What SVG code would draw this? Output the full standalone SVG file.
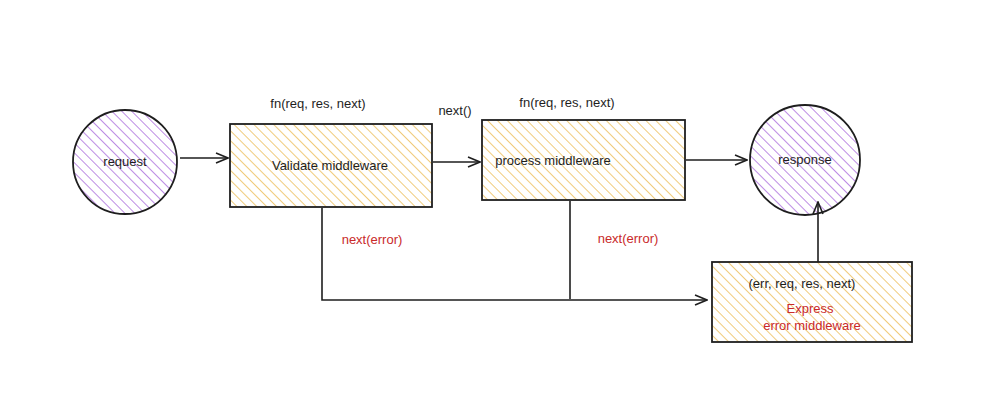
<svg xmlns="http://www.w3.org/2000/svg" width="1000" height="420" viewBox="0 0 1000 420">
<defs>
<pattern id="hy" width="7" height="7" patternUnits="userSpaceOnUse" patternTransform="rotate(-45)"><line x1="0" y1="0" x2="0" y2="7" stroke="#e9b441" stroke-width="1.4"/></pattern>
<pattern id="hp" width="7" height="7" patternUnits="userSpaceOnUse" patternTransform="rotate(-45)"><line x1="0" y1="0" x2="0" y2="7" stroke="#a15ad8" stroke-width="1.4"/></pattern>
<marker id="ar" markerWidth="14" markerHeight="12" refX="13" refY="6" orient="auto" markerUnits="userSpaceOnUse"><path d="M1,1 L13,6 L1,11" fill="none" stroke="#1e1e1e" stroke-width="1.6"/></marker>
</defs>
<style>
.n{stroke:#1e1e1e;stroke-width:1.8}
.t{font-family:"Liberation Sans",sans-serif;font-size:13px;fill:#1e1e1e;text-anchor:middle}
.r{fill:#c92a2a}
.c{fill:none;stroke:#1e1e1e;stroke-width:1.6}
</style>
<rect width="1000" height="420" fill="#fff"/>
<g id="request"><circle cx="125" cy="162" r="52" fill="url(#hp)" class="n"/><text class="t" x="125" y="166">request</text></g>
<g id="validate"><rect x="230" y="124" width="202" height="83" fill="url(#hy)" class="n"/><text class="t" x="318" y="108">fn(req, res, next)</text><text class="t" x="330" y="170">Validate middleware</text></g>
<g id="process"><rect x="482" y="120" width="203" height="80" fill="url(#hy)" class="n"/><text class="t" x="567" y="107">fn(req, res, next)</text><text class="t" x="553" y="165">process middleware</text></g>
<g id="response"><circle cx="805" cy="160" r="55" fill="url(#hp)" class="n"/><text class="t" x="805" y="164">response</text></g>
<g id="error"><rect x="712" y="262" width="200" height="80" fill="url(#hy)" class="n"/><text class="t" x="802" y="288">(err, req, res, next)</text><text class="t r" x="810" y="313">Express</text><text class="t r" x="812" y="330">error middleware</text></g>
<g id="connectors">
<line class="c" x1="180" y1="158" x2="228" y2="158" marker-end="url(#ar)"/>
<line class="c" x1="433" y1="162" x2="480" y2="162" marker-end="url(#ar)"/>
<text class="t" x="455" y="115">next()</text>
<line class="c" x1="686" y1="160" x2="747" y2="160" marker-end="url(#ar)"/>
<line class="c" x1="818" y1="262" x2="818" y2="202" marker-end="url(#ar)"/>
<polyline class="c" points="322,208 322,300 707,300" marker-end="url(#ar)"/>
<line class="c" x1="570" y1="201" x2="570" y2="299"/>
<text class="t r" x="372" y="244">next(error)</text>
<text class="t r" x="628" y="243">next(error)</text>
</g>
</svg>
